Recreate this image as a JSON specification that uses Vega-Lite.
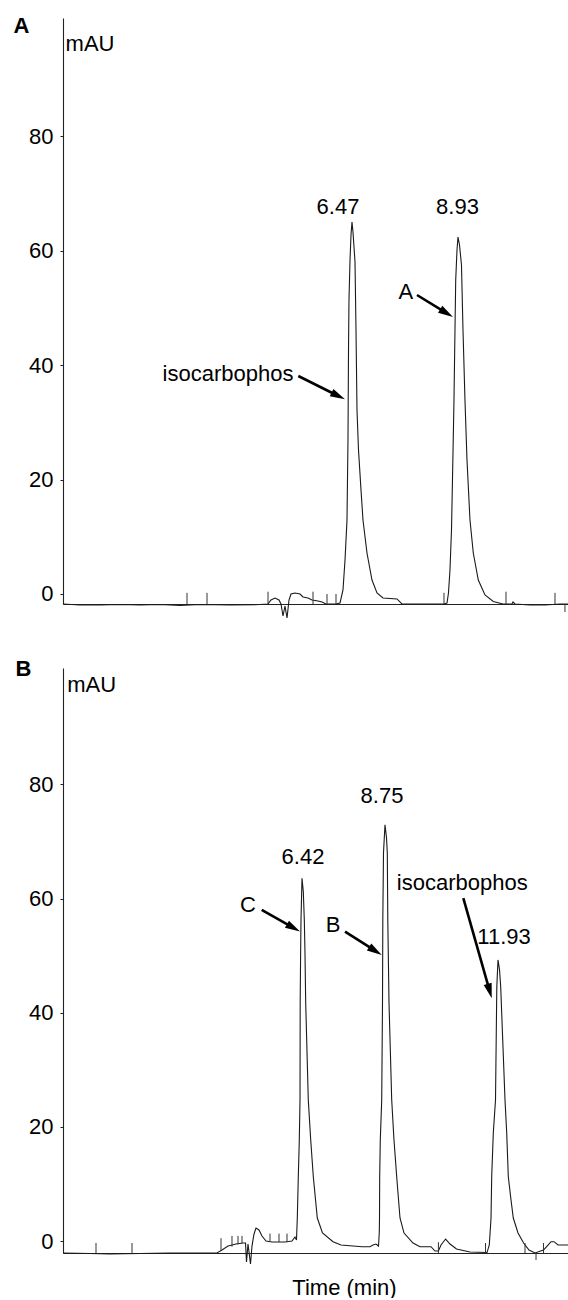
{
  "$schema": "https://vega.github.io/schema/vega-lite/v6.json",
  "padding": {"left": 13, "top": 14, "right": 0, "bottom": 0},
  "bounds": "flush",
  "spacing": 64,
  "config": {
    "view": {"stroke": null},
    "font": "Liberation Sans",
    "axis": {"grid": false, "domainColor": "#222", "domainWidth": 1.1, "tickColor": "#222", "labelFont": "Liberation Sans", "labelFontSize": 22, "labelColor": "#000", "titleFont": "Liberation Sans", "titleColor": "#000", "titleFontSize": 22},
    "axisY": {"tickSize": 3, "labelPadding": 7}
  },
  "datasets": {
    "traceA": [
      {"t":-0.237,"v":-1.75},{"t":0.158,"v":-1.92},{"t":0.622,"v":-1.92},{"t":1.086,"v":-1.84},{"t":1.550,"v":-1.92},{"t":2.014,"v":-1.84},{"t":2.478,"v":-2.01},{"t":2.943,"v":-1.84},{"t":3.639,"v":-1.92},{"t":4.335,"v":-1.84},{"t":4.521,"v":-1.75},{"t":4.590,"v":-1.05},{"t":4.683,"v":-0.70},{"t":4.776,"v":-1.05},{"t":4.822,"v":-1.75},{"t":4.869,"v":-3.85},{"t":4.915,"v":-2.10},{"t":4.962,"v":-4.20},{"t":5.008,"v":-1.05},{"t":5.054,"v":0.00},{"t":5.147,"v":0.17},{"t":5.263,"v":0.00},{"t":5.333,"v":-0.52},{"t":5.449,"v":-0.70},{"t":5.542,"v":-1.05},{"t":5.681,"v":-1.22},{"t":5.774,"v":-1.40},{"t":5.867,"v":-1.75},{"t":6.099,"v":-1.75},{"t":6.192,"v":-1.57},{"t":6.261,"v":0.70},{"t":6.308,"v":5.94},{"t":6.354,"v":12.94},{"t":6.377,"v":26.92},{"t":6.389,"v":42.66},{"t":6.400,"v":51.40},{"t":6.424,"v":58.39},{"t":6.447,"v":62.76},{"t":6.470,"v":65.03},{"t":6.493,"v":63.29},{"t":6.540,"v":58.04},{"t":6.563,"v":46.15},{"t":6.586,"v":32.17},{"t":6.621,"v":25.17},{"t":6.679,"v":18.18},{"t":6.725,"v":12.94},{"t":6.818,"v":7.17},{"t":6.934,"v":2.45},{"t":7.050,"v":0.17},{"t":7.189,"v":-0.70},{"t":7.514,"v":-0.87},{"t":7.630,"v":-1.75},{"t":8.605,"v":-1.75},{"t":8.675,"v":-1.57},{"t":8.709,"v":0.17},{"t":8.744,"v":4.20},{"t":8.779,"v":11.19},{"t":8.802,"v":19.93},{"t":8.837,"v":33.92},{"t":8.860,"v":46.15},{"t":8.877,"v":54.90},{"t":8.907,"v":60.14},{"t":8.930,"v":62.41},{"t":8.965,"v":61.01},{"t":9.011,"v":57.52},{"t":9.046,"v":46.15},{"t":9.092,"v":33.92},{"t":9.139,"v":23.43},{"t":9.208,"v":12.94},{"t":9.285,"v":7.17},{"t":9.401,"v":2.45},{"t":9.557,"v":-0.17},{"t":9.749,"v":-1.31},{"t":9.974,"v":-1.75},{"t":10.183,"v":-1.75},{"t":10.206,"v":-1.40},{"t":10.253,"v":-1.75},{"t":10.601,"v":-1.92},{"t":10.949,"v":-1.92},{"t":11.297,"v":-1.75},{"t":11.483,"v":-1.75}
    ],
    "ticksA": [
      {"t":2.641,"v":-1.75,"v2":0.2},{"t":3.105,"v":-1.75,"v2":0.2},{"t":4.521,"v":-1.75,"v2":0.4},{"t":5.565,"v":-1.75,"v2":0.4},{"t":5.890,"v":-1.75,"v2":0.0},{"t":6.099,"v":-1.75,"v2":0.0},{"t":8.605,"v":-1.75,"v2":0.2},{"t":10.044,"v":-1.75,"v2":0.4},{"t":11.181,"v":-1.75,"v2":0.2},{"t":11.413,"v":-3.15,"v2":-1.75}
    ],
    "arrowsA": [
      {"id":"a1","part":"tail","t":7.978,"v":52.27},{"id":"a1","part":"head","t":8.665,"v":49.11},
      {"id":"a2","part":"tail","t":5.224,"v":38.11},{"id":"a2","part":"head","t":6.152,"v":34.62}
    ],
    "labelsA": [
      {"label":"mAU","t":0.390,"v":96.15},{"label":"6.47","t":6.145,"v":67.66},{"label":"8.93","t":8.918,"v":67.66},{"label":"isocarbophos","t":3.592,"v":38.46},{"label":"A","t":7.719,"v":52.80}
    ],
    "traceB": [
      {"t":-0.299,"v":-2.10},{"t":0.460,"v":-2.19},{"t":1.022,"v":-2.28},{"t":1.866,"v":-2.19},{"t":2.709,"v":-2.10},{"t":3.552,"v":-2.10},{"t":4.030,"v":-2.10},{"t":4.171,"v":-1.58},{"t":4.340,"v":-0.88},{"t":4.564,"v":-0.53},{"t":4.761,"v":-0.35},{"t":4.832,"v":-0.35},{"t":4.860,"v":-3.68},{"t":4.902,"v":-0.53},{"t":4.972,"v":-4.03},{"t":5.014,"v":-0.88},{"t":5.071,"v":1.23},{"t":5.127,"v":2.28},{"t":5.211,"v":1.93},{"t":5.295,"v":0.88},{"t":5.408,"v":0.00},{"t":5.577,"v":-0.18},{"t":5.942,"v":-0.18},{"t":6.139,"v":0.00},{"t":6.223,"v":0.70},{"t":6.265,"v":0.18},{"t":6.288,"v":4.03},{"t":6.316,"v":11.27},{"t":6.344,"v":17.70},{"t":6.364,"v":24.71},{"t":6.369,"v":41.72},{"t":6.381,"v":50.48},{"t":6.392,"v":56.27},{"t":6.420,"v":63.57},{"t":6.457,"v":61.17},{"t":6.485,"v":56.27},{"t":6.504,"v":50.48},{"t":6.524,"v":41.72},{"t":6.597,"v":24.71},{"t":6.665,"v":17.70},{"t":6.738,"v":11.27},{"t":6.850,"v":4.03},{"t":6.996,"v":1.40},{"t":7.292,"v":-0.12},{"t":7.516,"v":-0.70},{"t":8.107,"v":-1.00},{"t":8.332,"v":-1.00},{"t":8.416,"v":-0.70},{"t":8.500,"v":-0.53},{"t":8.571,"v":-0.88},{"t":8.593,"v":1.58},{"t":8.599,"v":4.03},{"t":8.604,"v":11.27},{"t":8.621,"v":17.70},{"t":8.661,"v":24.71},{"t":8.683,"v":41.72},{"t":8.692,"v":56.27},{"t":8.711,"v":68.01},{"t":8.753,"v":72.92},{"t":8.796,"v":70.64},{"t":8.818,"v":68.01},{"t":8.832,"v":56.27},{"t":8.866,"v":41.72},{"t":8.942,"v":24.71},{"t":9.006,"v":17.70},{"t":9.082,"v":11.27},{"t":9.175,"v":4.03},{"t":9.288,"v":1.40},{"t":9.541,"v":-0.35},{"t":9.737,"v":-1.00},{"t":10.047,"v":-1.00},{"t":10.159,"v":-1.75},{"t":10.255,"v":-1.75},{"t":10.328,"v":-0.70},{"t":10.457,"v":0.35},{"t":10.581,"v":-0.53},{"t":10.764,"v":-1.40},{"t":11.143,"v":-1.93},{"t":11.621,"v":-2.02},{"t":11.686,"v":-0.70},{"t":11.734,"v":4.03},{"t":11.753,"v":11.27},{"t":11.798,"v":18.93},{"t":11.860,"v":24.71},{"t":11.888,"v":39.96},{"t":11.897,"v":44.57},{"t":11.930,"v":49.25},{"t":11.973,"v":47.50},{"t":12.006,"v":44.57},{"t":12.034,"v":39.96},{"t":12.127,"v":24.71},{"t":12.175,"v":18.93},{"t":12.220,"v":11.27},{"t":12.296,"v":7.19},{"t":12.360,"v":4.03},{"t":12.493,"v":1.40},{"t":12.650,"v":-0.35},{"t":12.802,"v":-1.58},{"t":12.971,"v":-2.10},{"t":13.209,"v":-1.58},{"t":13.336,"v":-0.70},{"t":13.420,"v":-0.12},{"t":13.505,"v":-0.12},{"t":13.617,"v":-0.70},{"t":13.898,"v":-0.70}
    ],
    "ticksB": [
      {"t":0.629,"v":-2.10,"v2":-0.35},{"t":1.641,"v":-2.10,"v2":-0.35},{"t":4.143,"v":-1.6,"v2":0.5},{"t":4.452,"v":-1.0,"v2":0.9},{"t":4.621,"v":-0.6,"v2":0.9},{"t":4.733,"v":-0.4,"v2":0.9},{"t":5.520,"v":-0.1,"v2":1.3},{"t":5.773,"v":-0.2,"v2":1.3},{"t":5.998,"v":-0.2,"v2":1.3},{"t":10.255,"v":-2.1,"v2":-0.2},{"t":11.579,"v":-2.1,"v2":-0.35},{"t":12.689,"v":-2.1,"v2":-0.35},{"t":13.209,"v":-2.1,"v2":-0.35},{"t":12.999,"v":-3.33,"v2":-2.1}
    ],
    "arrowsB": [
      {"id":"c","part":"tail","t":5.287,"v":58.02},{"id":"c","part":"head","t":6.181,"v":54.86},
      {"id":"b","part":"tail","t":7.629,"v":54.22},{"id":"b","part":"head","t":8.484,"v":50.83},
      {"id":"i","part":"tail","t":10.955,"v":60.07},{"id":"i","part":"head","t":11.697,"v":43.80}
    ],
    "labelsB": [
      {"label":"mAU","t":0.508,"v":97.37},{"label":"6.42","t":6.448,"v":67.31},{"label":"8.75","t":8.669,"v":78.0},{"label":"isocarbophos","t":10.924,"v":62.70},{"label":"11.93","t":12.099,"v":53.34},{"label":"C","t":4.902,"v":58.90},{"label":"B","t":7.292,"v":55.39}
    ]
  },
  "vconcat": [
    {
      "width": 505,
      "height": 586,
      "encoding": {
        "x": {"field": "t", "type": "quantitative", "scale": {"domain": [-0.237, 11.483], "nice": false, "zero": false}, "axis": {"title": null, "labels": false, "ticks": false}},
        "y": {"field": "v", "type": "quantitative", "scale": {"domain": [-1.75, 100.7], "nice": false, "zero": false}, "axis": {"values": [0, 20, 40, 60, 80], "title": "A", "titleAngle": 0, "titleAlign": "left", "titleBaseline": "middle", "titleX": -50, "titleY": 7, "titleFontWeight": "bold"}}
      },
      "layer": [
        {"data": {"name": "traceA"}, "mark": {"type": "line", "color": "#1a1a1a", "strokeWidth": 1.1}},
        {"data": {"name": "ticksA"}, "mark": {"type": "rule", "color": "#333", "strokeWidth": 1}, "encoding": {"y2": {"field": "v2"}}},
        {"data": {"name": "arrowsA"}, "mark": {"type": "line", "color": "#000", "strokeWidth": 2.6}, "encoding": {"detail": {"field": "id"}}},
        {"data": {"name": "arrowsA"}, "transform": [{"filter": "datum.id == 'a1' && datum.part == 'head'"}], "mark": {"type": "point", "shape": "M0,-1L0.55,1L-0.55,1Z", "size": 225, "filled": true, "opacity": 1, "color": "#000", "angle": 121.4}},
        {"data": {"name": "arrowsA"}, "transform": [{"filter": "datum.id == 'a2' && datum.part == 'head'"}], "mark": {"type": "point", "shape": "M0,-1L0.55,1L-0.55,1Z", "size": 225, "filled": true, "opacity": 1, "color": "#000", "angle": 116.5}},
        {"data": {"name": "labelsA"}, "mark": {"type": "text", "fontSize": 22, "font": "Liberation Sans", "color": "#000", "align": "center", "baseline": "middle"}, "encoding": {"text": {"field": "label"}}}
      ]
    },
    {
      "width": 505,
      "height": 585,
      "encoding": {
        "x": {"field": "t", "type": "quantitative", "scale": {"domain": [-0.299, 13.898], "nice": false, "zero": false}, "axis": {"title": "Time (min)", "labels": false, "ticks": false, "titlePadding": 24, "titleX": 281, "titleFontWeight": "normal"}},
        "y": {"field": "v", "type": "quantitative", "scale": {"domain": [-2.1, 100.4], "nice": false, "zero": false}, "axis": {"values": [0, 20, 40, 60, 80], "title": "B", "titleAngle": 0, "titleAlign": "left", "titleBaseline": "middle", "titleX": -48, "titleY": 0, "titleFontWeight": "bold"}}
      },
      "layer": [
        {"data": {"name": "traceB"}, "mark": {"type": "line", "color": "#1a1a1a", "strokeWidth": 1.1}},
        {"data": {"name": "ticksB"}, "mark": {"type": "rule", "color": "#333", "strokeWidth": 1}, "encoding": {"y2": {"field": "v2"}}},
        {"data": {"name": "arrowsB"}, "mark": {"type": "line", "color": "#000", "strokeWidth": 2.6}, "encoding": {"detail": {"field": "id"}}},
        {"data": {"name": "arrowsB"}, "transform": [{"filter": "datum.id == 'c' && datum.part == 'head'"}], "mark": {"type": "point", "shape": "M0,-1L0.55,1L-0.55,1Z", "size": 225, "filled": true, "opacity": 1, "color": "#000", "angle": 119.5}},
        {"data": {"name": "arrowsB"}, "transform": [{"filter": "datum.id == 'b' && datum.part == 'head'"}], "mark": {"type": "point", "shape": "M0,-1L0.55,1L-0.55,1Z", "size": 225, "filled": true, "opacity": 1, "color": "#000", "angle": 122.4}},
        {"data": {"name": "arrowsB"}, "transform": [{"filter": "datum.id == 'i' && datum.part == 'head'"}], "mark": {"type": "point", "shape": "M0,-1L0.55,1L-0.55,1Z", "size": 225, "filled": true, "opacity": 1, "color": "#000", "angle": 164.2}},
        {"data": {"name": "labelsB"}, "mark": {"type": "text", "fontSize": 22, "font": "Liberation Sans", "color": "#000", "align": "center", "baseline": "middle"}, "encoding": {"text": {"field": "label"}}}
      ]
    }
  ]
}
